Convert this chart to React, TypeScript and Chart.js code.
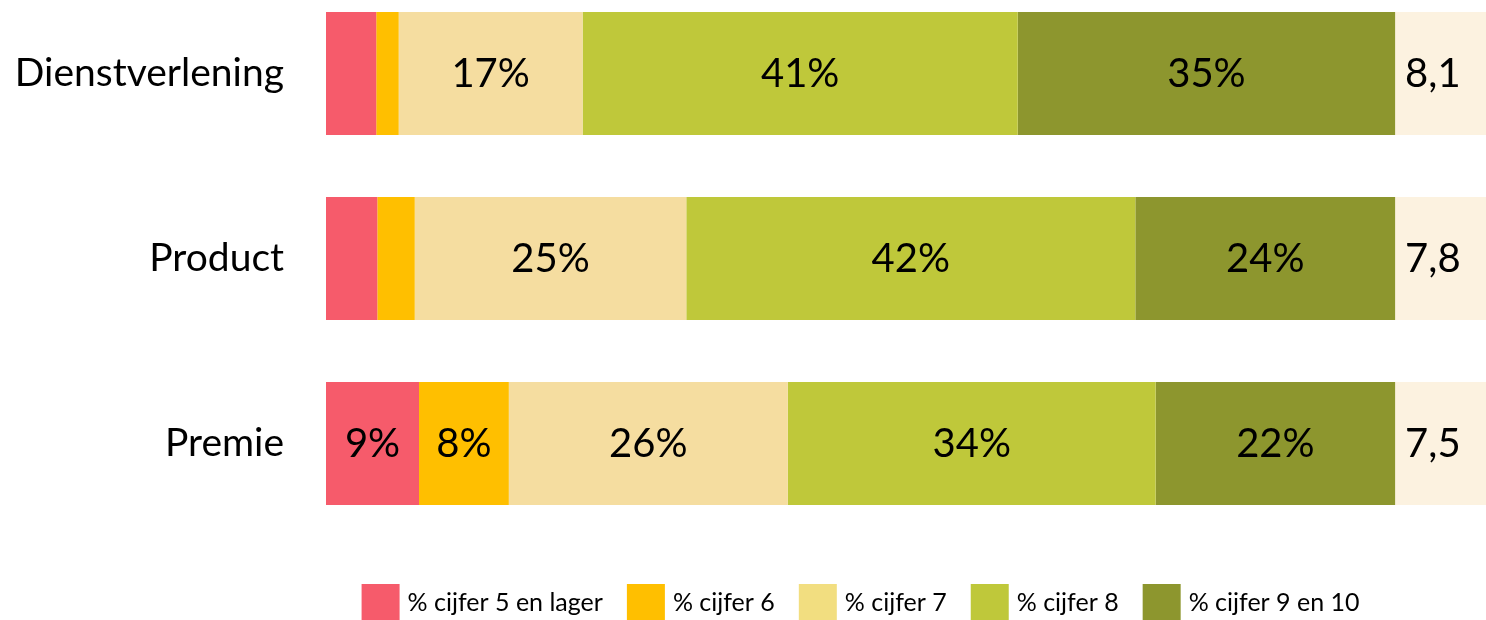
import { useEffect, useRef } from "react";
import { Chart, registerables } from "chart.js";

Chart.register(...registerables);

const categories = ["Dienstverlening", "Product", "Premie"];
const seriesNames = ["% cijfer 5 en lager", "% cijfer 6", "% cijfer 7", "% cijfer 8", "% cijfer 9 en 10"];
const grade5 = [4.7, 4.8, 8.7];
const grade6 = [2.1, 3.5, 8.4];
const grade7 = [17.2, 25.4, 26.1];
const grade8 = [40.7, 42.0, 34.4];
const grade9 = [35.3, 24.3, 22.4];
const averageScores = ["8,1", "7,8", "7,5"];
const scoreBoxWidth = [8.5, 8.5, 8.5];
const barColors = ["#F65B6B", "#FFBF00", "#F5DDA0", "#BFC83A", "#8D962E"];
const legendColors = ["#F65B6B", "#FFBF00", "#F2DE80", "#BFC83A", "#8D962E"];
const scoreColor = "#FCF2E0";
const xMax = 108.5;
const labelMin = 8;

const FONT = "Lato";

const labelPlugin = {
  id: "segLabels",
  afterDatasetsDraw(chart: any) {
    const ctx = chart.ctx;
    ctx.save();
    ctx.fillStyle = "#000";
    ctx.font = `40px ${FONT}`;
    ctx.textBaseline = "middle";
    chart.data.datasets.forEach((ds: any, di: number) => {
      const meta = chart.getDatasetMeta(di);
      meta.data.forEach((el: any, i: number) => {
        const { x, y, base } = el.getProps(["x", "y", "base"], true);
        if (ds.isScore) {
          ctx.textAlign = "left";
          ctx.fillText(averageScores[i], base + 10, y + 1);
        } else {
          const v = ds.data[i];
          if (v >= labelMin) {
            ctx.textAlign = "center";
            ctx.fillText(Math.round(v) + "%", (x + base) / 2, y + 1);
          }
        }
      });
    });
    ctx.restore();
  },
};

const legendPlugin = {
  id: "customLegend",
  afterDraw(chart: any) {
    const ctx = chart.ctx;
    const xs = chart.scales.x;
    const boxW = 38;
    const boxH = 36;
    const textGap = 8;
    const itemGap = 24;
    ctx.save();
    ctx.font = `25px ${FONT}`;
    const widths = seriesNames.map((n) => boxW + textGap + ctx.measureText(n).width);
    const total = widths.reduce((a, b) => a + b, 0) + itemGap * (widths.length - 1);
    const center = (xs.getPixelForValue(0) + xs.getPixelForValue(100)) / 2;
    let x = center - total / 2;
    const top = chart.chartArea.bottom + 48;
    ctx.textBaseline = "middle";
    ctx.textAlign = "left";
    seriesNames.forEach((n, i) => {
      ctx.fillStyle = legendColors[i];
      ctx.fillRect(x, top, boxW, boxH);
      ctx.fillStyle = "#000";
      ctx.fillText(n, x + boxW + textGap, top + boxH / 2 + 1);
      x += widths[i] + itemGap;
    });
    ctx.restore();
  },
};

export default function App() {
  const ref = useRef<HTMLCanvasElement>(null);
  useEffect(() => {
    document.body.style.margin = "0";
    document.body.style.overflow = "hidden";
    let chart: Chart | null = null;
    let cancelled = false;
    const build = () => {
      if (cancelled || !ref.current) return;
      const series = [grade5, grade6, grade7, grade8, grade9];
      const datasets: any[] = series.map((d, i) => ({
        label: seriesNames[i],
        data: d,
        backgroundColor: barColors[i],
        borderWidth: 0,
        categoryPercentage: 1,
        barPercentage: 0.665,
      }));
      datasets.push({
        label: "Gemiddeld cijfer",
        data: scoreBoxWidth,
        backgroundColor: scoreColor,
        borderWidth: 0,
        categoryPercentage: 1,
        barPercentage: 0.665,
        isScore: true,
      });
      chart = new Chart(ref.current, {
        type: "bar",
        data: { labels: categories, datasets },
        options: {
          indexAxis: "y",
          responsive: false,
          animation: false,
          events: [],
          layout: { padding: 0 },
          scales: {
            x: {
              stacked: true,
              min: 0,
              max: xMax,
              display: true,
              ticks: { display: false },
              grid: { display: false, drawTicks: false },
              border: { display: false },
              afterFit: (s: any) => {
                s.height = 94;
                s.paddingLeft = 0;
                s.paddingRight = 0;
              },
            },
            y: {
              stacked: true,
              grid: { display: false, drawTicks: false },
              border: { display: false },
              ticks: {
                color: "#000",
                font: { family: FONT, size: 39 },
                padding: 42,
              },
              afterFit: (s: any) => {
                s.width = 326;
                s.paddingTop = 0;
                s.paddingBottom = 0;
              },
            },
          },
          plugins: {
            tooltip: { enabled: false },
            legend: { display: false },
          },
        },
        plugins: [labelPlugin, legendPlugin],
      } as any);
    };
    const fontsApi = (document as any).fonts;
    if (fontsApi && fontsApi.load) {
      Promise.all([fontsApi.load(`40px ${FONT}`), fontsApi.load(`25px ${FONT}`)])
        .catch(() => null)
        .then(build);
    } else {
      build();
    }
    return () => {
      cancelled = true;
      if (chart) chart.destroy();
    };
  }, []);
  return (
    <canvas
      ref={ref}
      width={1486}
      height={649}
      style={{ display: "block", width: 1486, height: 649, marginTop: -19 }}
    />
  );
}
